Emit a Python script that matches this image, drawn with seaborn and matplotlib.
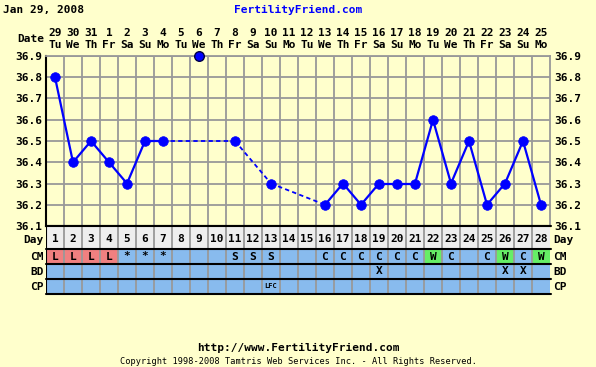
import numpy as np
import pandas as pd
import matplotlib
matplotlib.use("Agg")
import matplotlib.pyplot as plt
from matplotlib.colors import ListedColormap
from matplotlib.transforms import blended_transform_factory
import seaborn as sns

# chart data
cycle_days = list(range(1, 29))
dates = ["29", "30", "31", "1", "2", "3", "4", "5", "6", "7", "8", "9", "10", "11",
         "12", "13", "14", "15", "16", "17", "18", "19", "20", "21", "22", "23", "24", "25"]
weekdays = ["Tu", "We", "Th", "Fr", "Sa", "Su", "Mo", "Tu", "We", "Th", "Fr", "Sa", "Su", "Mo",
            "Tu", "We", "Th", "Fr", "Sa", "Su", "Mo", "Tu", "We", "Th", "Fr", "Sa", "Su", "Mo"]
temps = [36.8, 36.4, 36.5, 36.4, 36.3, 36.5, 36.5, None, 36.9, None, 36.5, None, 36.3, None,
         None, 36.2, 36.3, 36.2, 36.3, 36.3, 36.3, 36.6, 36.3, 36.5, 36.2, 36.3, 36.5, 36.2]
discarded_days = [9]
temp_ticks = [36.1, 36.2, 36.3, 36.4, 36.5, 36.6, 36.7, 36.8, 36.9]
cm_obs = ["L", "L", "L", "L", "*", "*", "*", "", "", "", "S", "S", "S", "",
          "", "C", "C", "C", "C", "C", "C", "W", "C", "", "C", "W", "C", "W"]
bd_obs = ["", "", "", "", "", "", "", "", "", "", "", "", "", "",
          "", "", "", "", "X", "", "", "", "", "", "", "X", "X", ""]
cp_obs = ["", "", "", "", "", "", "", "", "", "", "", "", "LFC", "",
          "", "", "", "", "", "", "", "", "", "", "", "", "", ""]
row_names = ["CM", "BD", "CP"]

BG = "#FFFFCC"
BLUE = "#0000FF"
GRID = "#999999"
W, H = 596, 367
FS = 8


def fx(x):
    return x / W


def fy(y):
    return 1 - y / H


sns.set_style("white")
plt.rcParams["font.family"] = ["DejaVu Sans Mono"]
plt.rcParams["font.weight"] = "bold"
plt.rcParams["text.color"] = "black"
plt.rcParams["xtick.color"] = "black"
plt.rcParams["ytick.color"] = "black"

fig = plt.figure(figsize=(W / 100, H / 100), dpi=100, facecolor=BG)

# temperature panel
ax = fig.add_axes([fx(46), fy(226), 504 / W, 170 / H])
ax.set_facecolor(BG)

df = pd.DataFrame({"day": cycle_days, "temp": temps})
df = df.dropna()
disc = df[df["day"].isin(discarded_days)]
used = df[~df["day"].isin(discarded_days)].reset_index(drop=True)

# solid between consecutive days, dashed over gaps
solid_rows, dash_rows = [], []
for i in range(len(used) - 1):
    a, b = used.iloc[i], used.iloc[i + 1]
    target = solid_rows if b["day"] - a["day"] == 1 else dash_rows
    target.append({"day": a["day"], "temp": a["temp"], "seg": i})
    target.append({"day": b["day"], "temp": b["temp"], "seg": i})
solid_df = pd.DataFrame(solid_rows)
dash_df = pd.DataFrame(dash_rows)

sns.lineplot(data=solid_df, x="day", y="temp", units="seg", estimator=None, sort=False,
             color=BLUE, linewidth=1.6, ax=ax, legend=False)
sns.lineplot(data=dash_df, x="day", y="temp", units="seg", estimator=None, sort=False,
             color=BLUE, linewidth=1.3, linestyle=(0, (2.4, 1.8)), ax=ax, legend=False)
sns.scatterplot(data=used, x="day", y="temp", color=BLUE, s=48, edgecolor=BLUE,
                linewidth=0.5, ax=ax, zorder=5, clip_on=False, legend=False)
sns.scatterplot(data=disc, x="day", y="temp", color=BLUE, s=48, edgecolor="#000044",
                linewidth=1.0, ax=ax, zorder=5, clip_on=False, legend=False)

ax.set_xlim(0.5, 28.5)
ax.set_ylim(36.1, 36.9)
ax.set_xticks(np.arange(1.5, 28.5, 1))
ax.set_xticklabels([])
ax.set_yticks(temp_ticks)
ax.set_yticklabels([f"{t:.1f}" for t in temp_ticks])
ax.tick_params(axis="y", labelleft=True, labelright=True, length=0, pad=3, labelsize=FS)
ax.tick_params(axis="x", length=0)
ax.grid(True, color=GRID, linewidth=1.3)
ax.set_xlabel("")
ax.set_ylabel("")
for side in ["top", "right"]:
    ax.spines[side].set_color(GRID)
    ax.spines[side].set_linewidth(1.3)
for side in ["left", "bottom"]:
    ax.spines[side].set_color("black")
    ax.spines[side].set_linewidth(1.5)

# date header
tr = blended_transform_factory(ax.transData, ax.transAxes)
for d, dt, wd in zip(cycle_days, dates, weekdays):
    ax.text(d, 1 + 23 / 170, dt, transform=tr, ha="center", va="center", fontsize=FS)
    ax.text(d, 1 + 11 / 170, wd, transform=tr, ha="center", va="center", fontsize=FS)
fig.text(fx(44), fy(39), "Date", ha="right", va="center", fontsize=FS)

# day row
ax_day = fig.add_axes([fx(46), fy(249), 504 / W, 23 / H])
ax_day.set_facecolor("#EEEEEE")
ax_day.set_xlim(0.5, 28.5)
ax_day.set_ylim(0, 1)
for d in cycle_days:
    ax_day.text(d, 0.45, str(d), ha="center", va="center", fontsize=FS)
for b in np.arange(1.5, 28.5, 1):
    ax_day.axvline(b, color=GRID, linewidth=1.3)
ax_day.set_xticks([])
ax_day.set_yticks([])
for side in ax_day.spines:
    ax_day.spines[side].set_visible(False)
ax_day.axvline(0.5, color="black", linewidth=1.5)

# observation table
codes = np.zeros((3, 28))
for i, v in enumerate(cm_obs):
    codes[0, i] = 1 if v == "L" else (2 if v == "W" else 0)
ax_tab = fig.add_axes([fx(46), fy(294), 504 / W, 45 / H])
sns.heatmap(codes, cmap=ListedColormap(["#88BBEE", "#F08080", "#66EE66"]), vmin=0, vmax=2,
            cbar=False, ax=ax_tab, linewidths=0)
ax_tab.set_xticks([])
ax_tab.set_yticks([])
for b in range(1, 28):
    ax_tab.axvline(b, color=GRID, linewidth=1.3)
for r, row in enumerate([cm_obs, bd_obs, cp_obs]):
    for i, v in enumerate(row):
        if v:
            ax_tab.text(i + 0.5, r + 0.5, v, ha="center", va="center",
                        fontsize=5 if len(v) > 1 else FS)
ax_tab.axvline(0, color="black", linewidth=1.5)

# black row separators
for y in [226, 249, 264, 279, 294]:
    fig.add_artist(plt.Line2D([fx(46), fx(550.5)], [fy(y), fy(y)], color="black",
                              linewidth=1.5))

# row labels both sides
for lab, yc in zip(["Day"] + row_names, [240, 257, 272, 287]):
    fig.text(fx(44), fy(yc), lab, ha="right", va="center", fontsize=FS)
    fig.text(fx(553), fy(yc), lab, ha="left", va="center", fontsize=FS)

# header and footer
fig.text(fx(3), fy(10), "Jan 29, 2008", ha="left", va="center", fontsize=FS)
fig.text(fx(298), fy(10), "FertilityFriend.com", ha="center", va="center", fontsize=FS,
         color=BLUE)
fig.text(fx(298), fy(348), "http://www.FertilityFriend.com", ha="center", va="center",
         fontsize=FS)
fig.text(fx(298), fy(362), "Copyright 1998-2008 Tamtris Web Services Inc. - All Rights Reserved.",
         ha="center", va="center", fontsize=6.2, fontweight="normal")

fig.savefig("out.png", dpi=100, facecolor=BG)
